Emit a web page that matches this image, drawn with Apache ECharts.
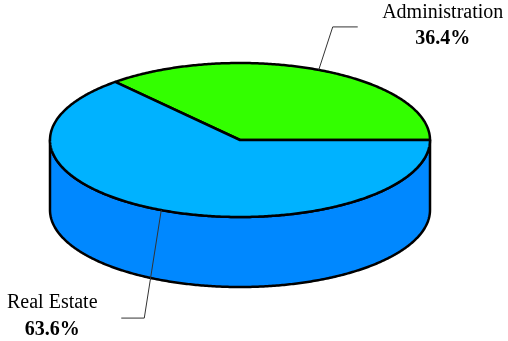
<!DOCTYPE html>
<html><head><meta charset="utf-8">
<script src="https://cdn.jsdelivr.net/npm/echarts@6/dist/echarts.min.js"></script>
<style>html,body{margin:0;padding:0;background:#fff}#c{width:508px;height:341px}</style>
</head><body><div id="c"></div>
<script>
const categories = ['Administration', 'Real Estate'];
const values = [36.4, 63.6];
const pctLabels = ['36.4%', '63.6%'];
const topColors = ['#33FF00', '#00B2FF'];
const sideColors = ['#22CC00', '#0088FF'];

// layout (not data)
const CX = 240, CY = 140, RX = 190, RY = 77, DEPTH = 70;
const labelLayout = [
  {elbow: [14, -43], end: [39, -43], name: [124, -57], pct: [124, -31]},
  {elbow: [-17, 108], end: [-40, 108], name: [-109, 93], pct: [-109, 120]}
];

const total = values.reduce((a, b) => a + b, 0);
const FONT = '"Liberation Serif", "Times New Roman", serif';

function pt(t, dy) { return [CX + RX * Math.cos(t), CY - RY * Math.sin(t) + (dy || 0)]; }
function arc(a, b, dy) {
  const pts = []; const n = Math.max(2, Math.ceil(Math.abs(b - a) / 0.01));
  for (let k = 0; k <= n; k++) pts.push(pt(a + (b - a) * k / n, dy));
  return pts;
}

const chart = echarts.init(document.getElementById('c'), null, {renderer: 'canvas'});
chart.setOption({
  animation: false,
  series: [{
    type: 'custom',
    coordinateSystem: 'none',
    data: values.map((v, i) => [i, v]),
    renderItem: function (params, api) {
      const i = api.value(0);
      let cum = 0;
      for (let k = 0; k < i; k++) cum += values[k];
      const a0 = 2 * Math.PI * cum / total;
      const a1 = 2 * Math.PI * (cum + api.value(1)) / total;
      const children = [];
      const s = Math.max(a0, Math.PI), e = Math.min(a1, 2 * Math.PI);
      if (e > s) {
        const pts = arc(s, e, 0).concat(arc(e, s, DEPTH));
        children.push({type: 'polygon', z2: 1, shape: {points: pts},
          style: {fill: sideColors[i], stroke: '#000', lineWidth: 2.5, lineJoin: 'round'}});
      }
      const top = [[CX, CY]].concat(arc(a0, a1, 0));
      children.push({type: 'polygon', z2: 5, shape: {points: top},
        style: {fill: topColors[i], stroke: '#000', lineWidth: 2.5, lineJoin: 'round'}});
      const m = (a0 + a1) / 2;
      const p0 = pt(m, 0);
      const L = labelLayout[i];
      children.push({type: 'polyline', z2: 10, shape: {points: [p0, [p0[0] + L.elbow[0], p0[1] + L.elbow[1]], [p0[0] + L.end[0], p0[1] + L.end[1]]]},
        style: {fill: null, stroke: '#333', lineWidth: 1}});
      children.push({type: 'text', z2: 10, x: p0[0] + L.name[0], y: p0[1] + L.name[1],
        style: {text: categories[i], font: '20px ' + FONT, fill: '#000', align: 'center', verticalAlign: 'middle'}});
      children.push({type: 'text', z2: 10, x: p0[0] + L.pct[0], y: p0[1] + L.pct[1],
        style: {text: pctLabels[i], font: 'bold 20px ' + FONT, fill: '#000', align: 'center', verticalAlign: 'middle'}});
      return {type: 'group', children: children};
    }
  }]
});
</script></body></html>
